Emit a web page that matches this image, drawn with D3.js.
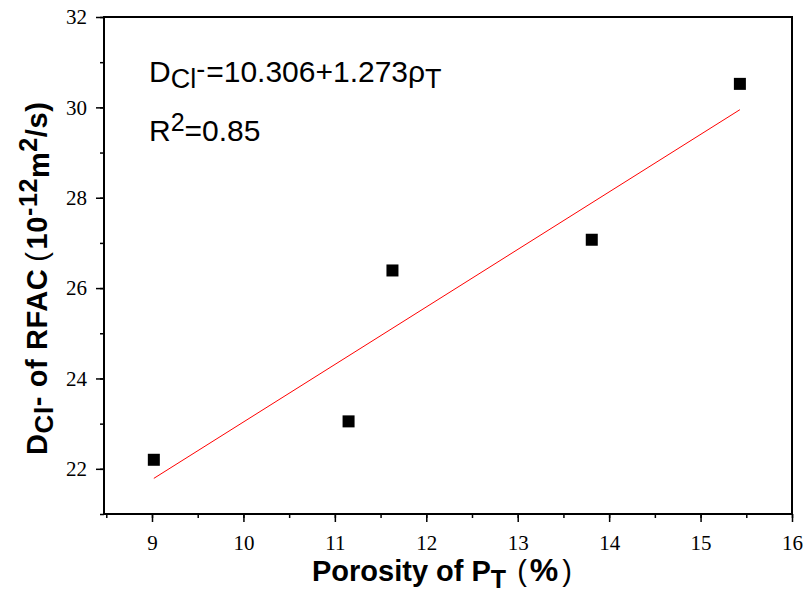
<!DOCTYPE html>
<html>
<head>
<meta charset="utf-8">
<script src="https://cdn.jsdelivr.net/npm/d3@7"></script>
<style>
  body { margin: 0; background: #fff; }
</style>
</head>
<body>
<script>
// measured points and the fitted line
const porosity = [9.02, 11.15, 11.63, 13.81, 15.43];
const diffusion = [22.2, 23.05, 26.39, 27.07, 30.52];
const fitIntercept = 10.306;
const fitSlope = 1.273;
const xTicks = [9, 10, 11, 12, 13, 14, 15, 16];
const yTicks = [22, 24, 26, 28, 30, 32];

const width = 805, height = 604;
const margin = {top: 17, right: 13, bottom: 90, left: 104};

const svg = d3.select("body").append("svg")
    .attr("width", width)
    .attr("height", height);

const x = d3.scaleLinear()
    .domain([8.475, 16])
    .range([margin.left, width - margin.right]);

const y = d3.scaleLinear()
    .domain([21, 32])
    .range([height - margin.bottom, margin.top]);

const tickFont = "21px 'Liberation Serif', 'DejaVu Serif', serif";

// x axis: major + minor ticks
const gx = svg.append("g")
    .attr("transform", `translate(0,${height - margin.bottom})`);
gx.call(d3.axisBottom(x).tickValues(d3.range(8.5, 16.01, 0.5)).tickSize(4).tickFormat(""))
    .call(g => g.select(".domain").remove());
gx.append("g").call(d3.axisBottom(x).tickValues(xTicks).tickSize(8).tickPadding(13).tickSizeOuter(0))
    .call(g => g.select(".domain").remove())
    .call(g => g.selectAll("text").style("font", tickFont).attr("fill", "#000"));

// y axis
const gy = svg.append("g")
    .attr("transform", `translate(${margin.left},0)`);
gy.call(d3.axisLeft(y).tickValues(d3.range(21, 32.01, 1)).tickSize(4).tickFormat(""))
    .call(g => g.select(".domain").remove());
gy.append("g").call(d3.axisLeft(y).tickValues(yTicks).tickSize(8).tickPadding(9).tickSizeOuter(0))
    .call(g => g.select(".domain").remove())
    .call(g => g.selectAll("text").style("font", tickFont).attr("fill", "#000"));

svg.selectAll(".tick line").attr("stroke", "#000").attr("stroke-width", 1.5);

// frame
svg.append("rect")
    .attr("x", x.range()[0])
    .attr("y", y.range()[1])
    .attr("width", x.range()[1] - x.range()[0])
    .attr("height", y.range()[0] - y.range()[1])
    .attr("fill", "none")
    .attr("stroke", "#000")
    .attr("stroke-width", 2);

// fit line
const xs = d3.extent(porosity);
svg.append("line")
    .attr("x1", x(xs[0])).attr("y1", y(fitIntercept + fitSlope * xs[0]))
    .attr("x2", x(xs[1])).attr("y2", y(fitIntercept + fitSlope * xs[1]))
    .attr("stroke", "#ff0000")
    .attr("stroke-width", 1);

// points
const s = 12;
svg.append("g").selectAll("rect")
    .data(d3.zip(porosity, diffusion))
    .join("rect")
    .attr("x", d => x(d[0]) - s / 2)
    .attr("y", d => y(d[1]) - s / 2)
    .attr("width", s)
    .attr("height", s)
    .attr("fill", "#000");

// equation
const eq = svg.append("g")
    .style("font", "30px 'Liberation Sans', Arial, sans-serif")
    .attr("fill", "#000");
const t1 = eq.append("text").attr("x", 149).attr("y", 82);
t1.append("tspan").text("D");
t1.append("tspan").attr("font-size", 27).attr("baseline-shift", "-6").text("Cl");
t1.append("tspan").attr("font-size", 27).attr("baseline-shift", "4").text("-");
t1.append("tspan").attr("dx", 1).text("=10.306+1.273ρ");
t1.append("tspan").attr("font-size", 27).attr("baseline-shift", "-6").text("T");

const t2 = eq.append("text").attr("x", 149).attr("y", 141);
t2.append("tspan").text("R");
t2.append("tspan").attr("font-size", 25).attr("baseline-shift", "10").text("2");
t2.append("tspan").text("=0.85");

// axis titles
const xt = svg.append("text")
    .attr("x", 312).attr("y", 581)
    .style("font", "bold 29px 'Liberation Sans', Arial, sans-serif")
    .attr("fill", "#000");
xt.append("tspan").text("Porosity of P");
xt.append("tspan").attr("font-size", 25).attr("baseline-shift", "-7").text("T");
xt.append("tspan").attr("dx", 11).attr("font-weight", "normal").text("(");
xt.append("tspan").attr("dx", 3).attr("font-size", 32).text("%");
xt.append("tspan").attr("dx", 4).attr("font-weight", "normal").text(")");

const yt = svg.append("text")
    .attr("transform", "translate(47,455) rotate(-90)")
    .style("font", "bold 29px 'Liberation Sans', Arial, sans-serif")
    .style("letter-spacing", "0.6px")
    .attr("fill", "#000");
yt.append("tspan").text("D");
yt.append("tspan").attr("font-size", 26).attr("baseline-shift", "-6").text("Cl");
yt.append("tspan").text("- of RFAC");
yt.append("tspan").attr("dx", 7).attr("font-weight", "normal").text("(");
yt.append("tspan").attr("dx", 2).text("10");
yt.append("tspan").attr("font-size", 25).attr("baseline-shift", "10").text("-12");
yt.append("tspan").attr("baseline-shift", "-2").text("m");
yt.append("tspan").attr("font-size", 25).attr("baseline-shift", "10").text("2");
yt.append("tspan").text("/s)");
</script>
</body>
</html>
